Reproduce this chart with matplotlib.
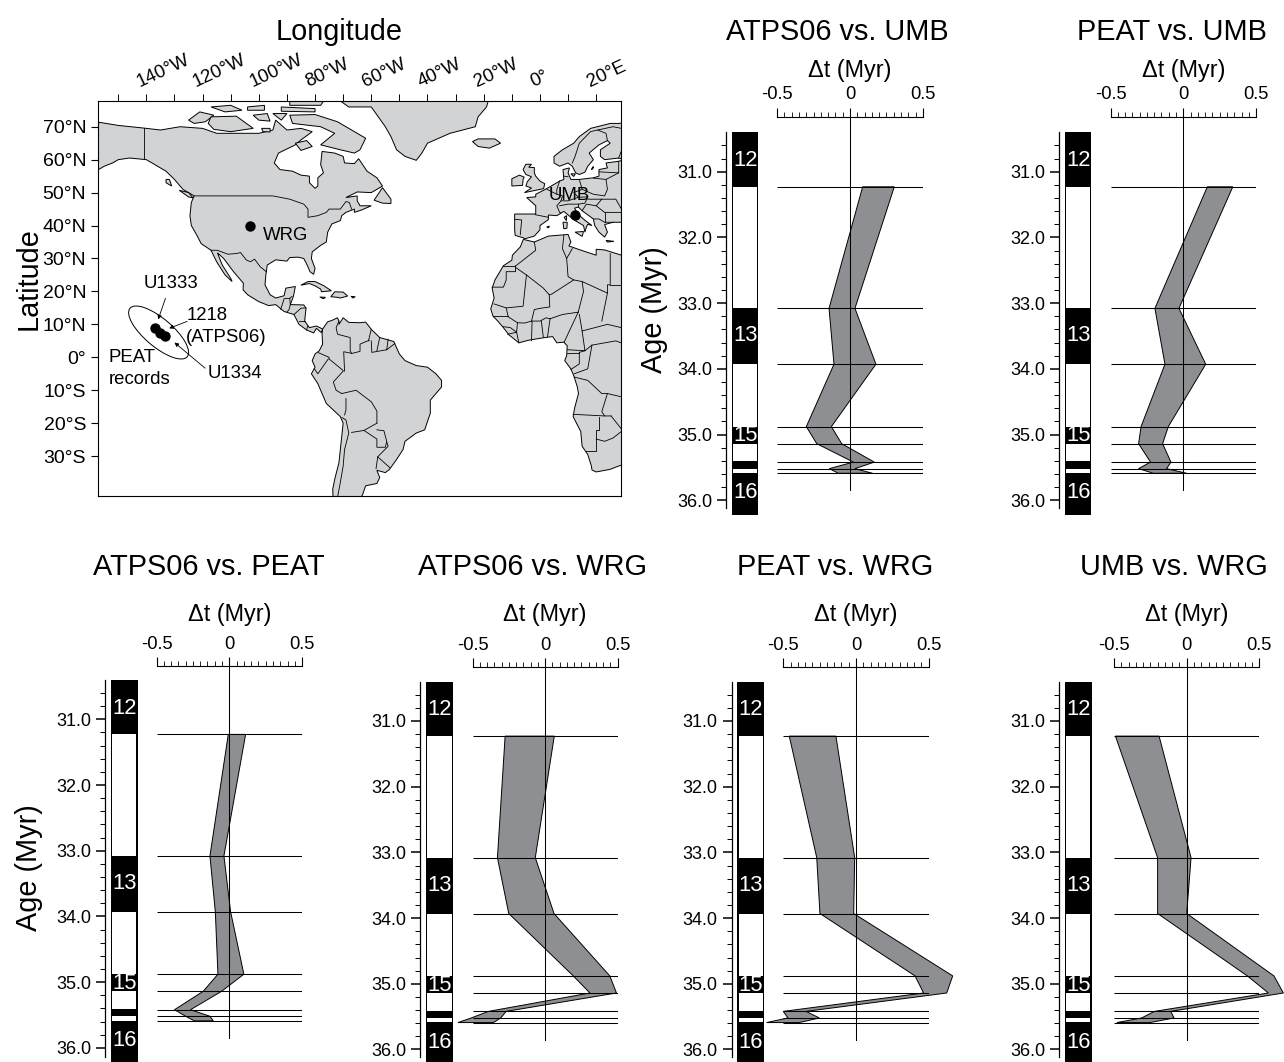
#!/usr/bin/env python3
import matplotlib
matplotlib.use('Agg')
import matplotlib.pyplot as plt
import numpy as np
from matplotlib.patches import Ellipse
from matplotlib.transforms import IdentityTransform

plt.rcParams['font.family'] = ['Liberation Sans', 'DejaVu Sans']

W, H = 1284, 1062

# ---- data: delta-t panels ----
chron_ages = [31.23, 33.08, 33.93, 34.88, 35.14, 35.42, 35.52, 35.59]
white_tops = [31.23, 33.93, 35.14, 35.52]
white_bots = [33.08, 34.88, 35.41, 35.585]
chron_names = ['12', '13', '15', '16']
chron_text_ages = [30.83, 33.5, 35.02, 35.89]
age_major = [31, 32, 33, 34, 35, 36]
age_minor = [30.6, 30.8, 31.2, 31.4, 31.6, 31.8, 32.2, 32.4, 32.6, 32.8, 33.2, 33.4,
             33.6, 33.8, 34.2, 34.4, 34.6, 34.8, 35.2, 35.4, 35.6, 35.8]

atps_umb_l = [0.087, -0.144, -0.11, -0.30, -0.228, 0.023, -0.142, -0.08]
atps_umb_r = [0.304, 0.034, 0.178, -0.128, -0.057, 0.167, 0.034, 0.155]
peat_umb_l = [0.165, -0.195, -0.126, -0.29, -0.307, -0.225, -0.307, -0.206]
peat_umb_r = [0.34, -0.03, 0.154, -0.103, -0.142, -0.085, -0.115, 0.023]
atps_peat_l = [-0.007, -0.133, -0.096, -0.078, -0.179, -0.376, -0.30, -0.24]
atps_peat_r = [0.112, -0.037, 0.009, 0.10, -0.053, -0.266, -0.133, -0.11]
atps_wrg_l = [-0.275, -0.328, -0.25, 0.195, 0.31, -0.39, -0.509, -0.60]
atps_wrg_r = [0.064, -0.067, 0.062, 0.447, 0.493, -0.268, -0.305, -0.356]
peat_wrg_l = [-0.459, -0.27, -0.248, 0.406, 0.465, -0.50, -0.468, -0.615]
peat_wrg_r = [-0.138, -0.009, -0.016, 0.665, 0.624, -0.344, -0.252, -0.39]
umb_wrg_l = [-0.49, -0.2, -0.2, 0.417, 0.562, -0.222, -0.31, -0.48]
umb_wrg_r = [-0.19, 0.03, 0.0, 0.60, 0.665, -0.11, -0.087, -0.252]

# ---- data: map outlines (lon, lat) ----
north_america = [(-160, 71), (-156.5, 71.3), (-150, 70.4), (-141, 69.6), (-135, 69), (-128, 70), (-120, 69.5),
    (-115, 68), (-108, 68), (-100, 68), (-95, 69), (-94, 72), (-90, 69), (-85, 69.5), (-81, 68.5), (-85, 66),
    (-87, 64.5), (-93, 62), (-94.5, 59), (-92.5, 57), (-88, 56.5), (-85, 55.3), (-82, 55), (-82, 53), (-80, 51.3),
    (-79, 52), (-79, 54.5), (-77, 56), (-78, 58.5), (-77.5, 62.5), (-73, 62), (-70, 61), (-69.5, 59), (-66, 58.8),
    (-64.5, 60.3), (-61.5, 56.5), (-58, 54.5), (-56, 52), (-60, 50), (-65, 50.2), (-69, 48.5), (-65, 49),
    (-65, 47.5), (-64, 46), (-61, 46), (-60, 46), (-63.5, 44.7), (-66, 44), (-66, 45), (-69, 44), (-70.5, 43),
    (-71, 41.5), (-74, 40.5), (-75.5, 38), (-76, 35), (-78, 34), (-81, 32), (-81.3, 30), (-80, 27), (-80.5, 25.2),
    (-81.8, 26), (-82.8, 28), (-84, 30), (-86, 30.4), (-89, 30.3), (-90, 29.2), (-94, 29.6), (-97, 28), (-97.5, 25),
    (-97.8, 22), (-96, 19), (-94, 18), (-91, 18.7), (-90.4, 21), (-87, 21.5), (-87.7, 18.5), (-88.8, 16), (-84, 15.9),
    (-83.2, 14.9), (-83.7, 11), (-82, 9), (-79.5, 9.5), (-77.3, 8.6), (-77.8, 7.5), (-79.5, 8.8), (-80.5, 7.4),
    (-83, 8.3), (-85.7, 10), (-87.5, 13), (-91, 13.9), (-94, 16), (-96.5, 15.7), (-100, 16.9), (-104, 19),
    (-105.6, 20.5), (-105.5, 22.5), (-109, 26), (-112.5, 30), (-114.7, 31.7), (-113, 28), (-110, 24), (-109.5, 23),
    (-112, 25), (-115, 29), (-117, 32.5), (-120.5, 34.5), (-122, 37), (-124, 40), (-124.5, 43), (-124, 47), (-123, 49),
    (-127, 51), (-130, 54), (-133, 56.5), (-137, 58.5), (-140, 60), (-146, 60.5), (-150, 60), (-152, 59), (-155, 58),
    (-160, 55.5)]
greenland = [(-73, 79), (-68, 76), (-60, 76), (-55, 70), (-53, 67), (-51, 63), (-48, 61), (-44, 59.8), (-42, 62),
    (-40, 65), (-32, 68), (-23, 70), (-22, 73), (-19, 76), (-18, 79)]
iceland = [(-24, 65.5), (-22, 64), (-18, 63.5), (-14, 65), (-16, 66.3), (-22, 66.3)]
banks = [(-125, 72), (-121, 74.5), (-116, 73.5), (-119, 71.5), (-123, 71)]
victoria = [(-117, 73), (-108, 73.2), (-102, 69.5), (-110, 68.5), (-116, 69.2), (-118, 71)]
melville = [(-117, 76), (-110, 76.5), (-106, 75), (-112, 74.5)]
bathurst = [(-104, 76), (-98, 76.5), (-98, 75), (-104, 75)]
prince_wales = [(-102, 73.5), (-97, 74), (-96, 71.7), (-100, 72)]
king_william = [(-99, 69.5), (-96, 69.5), (-96, 68.4), (-98.5, 68.5)]
somerset = [(-95, 74), (-90, 74), (-92, 72)]
devon = [(-92, 76), (-80, 75.5), (-80, 74.5), (-92, 74.7)]
ellesmere = [(-89, 79), (-89, 76.5), (-78, 76.5), (-76, 79)]
baffin = [(-80, 73.7), (-72, 71.5), (-67, 69), (-62, 66.5), (-64, 63), (-66, 62), (-71, 63), (-78, 64.5),
    (-73, 68), (-78, 70), (-88, 71), (-89, 73.5)]
southampton = [(-87, 65), (-83, 65.8), (-81, 64), (-85, 62.8)]
newfoundland = [(-59, 47.7), (-56, 51.5), (-53, 48), (-53, 46.7), (-56, 46.8)]
vancouver = [(-128.3, 50.7), (-125, 50), (-123.4, 48.4), (-125, 48.7)]
charlotte = [(-133, 54), (-131.8, 54), (-131, 52), (-133, 53)]
cuba = [(-85, 21.9), (-82.5, 23), (-80, 23), (-77, 21.8), (-74.2, 20.2), (-77.7, 19.9), (-78, 20.7), (-80, 21.7), (-82, 22.4)]
hispaniola = [(-74.4, 18.4), (-73, 19.9), (-70, 19.8), (-68.4, 18.6), (-71, 18), (-72, 18.2)]
jamaica = [(-78.3, 18.3), (-76.3, 18.2), (-77, 17.8)]
puerto_rico = [(-67.2, 18.5), (-65.7, 18.4), (-66.5, 18)]
south_america = [(-77.3, 8.6), (-75.5, 10.8), (-74, 11.2), (-72, 12), (-71.5, 11), (-71.5, 10), (-70, 12), (-68, 10.6),
    (-64, 10.5), (-62, 10.7), (-60, 8.5), (-57, 6), (-52, 4.8), (-50, 1), (-48, -1), (-44, -2.5), (-40, -3), (-37, -5),
    (-35, -7), (-35, -9), (-39, -13), (-39, -17), (-41, -22), (-44, -23), (-48, -25.5), (-48.7, -28), (-51, -31),
    (-53.5, -34), (-55, -35), (-58, -34.3), (-57, -36.5), (-58, -38.3), (-62, -39), (-63, -41.5), (-65, -45), (-73.5, -45),
    (-73.7, -40), (-73, -37), (-71.5, -32), (-71, -28), (-70, -20), (-71, -18), (-76, -14), (-79, -8), (-81.3, -5),
    (-80, -3), (-81, -1), (-80, 1), (-78.5, 2), (-77.3, 4), (-77.5, 7)]
europe = [(40, 72), (28, 71), (25, 71), (18, 69.5), (14, 67), (12, 65), (8, 63), (5, 61), (5, 59), (7, 58), (10, 59),
    (11.5, 58), (12.7, 56), (14, 55.5), (16, 56.2), (17, 58), (19, 60), (17.5, 62), (21, 64.5), (24, 65.8), (25, 65),
    (21.5, 63), (21.5, 61), (23, 60), (28, 60.5), (30, 60), (28, 59.5), (23.5, 59), (24, 57.5), (21, 57), (21, 55),
    (19, 54.5), (14, 54), (11, 54), (10, 56), (10.5, 57.5), (8.2, 57), (8.5, 54), (7, 53.5), (4, 52), (1.5, 50.8),
    (-1.5, 49.5), (-1.5, 48.7), (-4.7, 48.5), (-1.5, 46), (-1.5, 43.5), (-9, 43.5), (-9, 38.7), (-8.8, 37), (-6, 36.3),
    (-5.3, 36), (-2, 36.8), (0, 38.7), (0, 40), (3, 41.8), (3, 43.2), (6, 43), (8.5, 44.3), (10.3, 43), (12.5, 41.5),
    (15.5, 40), (16, 38), (16.5, 39.5), (17, 40.4), (18.5, 40), (16, 41.6), (13.5, 43.5), (12.3, 45.3), (13.7, 45.6),
    (15, 44.5), (19, 42), (19.5, 40), (21, 38), (23, 36.5), (24, 38), (23, 40.3), (26, 41), (29, 41), (40, 41)]
great_britain = [(-5.5, 50), (1.3, 51.2), (1.7, 52.7), (0, 53.5), (-1.5, 55), (-2, 56), (-2, 57.6), (-4, 57.7), (-3, 58.6),
    (-5, 58.6), (-6, 57), (-5, 55.5), (-3, 54.8), (-4.5, 53.3), (-5, 52), (-3, 51.4)]
ireland = [(-10, 52), (-6.2, 52.2), (-6, 54), (-5.6, 54.7), (-7.3, 55.3), (-10, 54.2)]
sicily = [(12.5, 38), (15.5, 38.2), (15, 36.7)]
sardinia = [(8.2, 41), (9.7, 41), (9.6, 39.2), (8.5, 39)]
corsica = [(8.6, 42.5), (9.5, 43), (9.4, 41.5)]
crete = [(23.5, 35.5), (26.3, 35.2), (24, 35)]
mallorca = [(2.4, 39.6), (3.4, 39.8), (3, 39.3)]
gotland = [(18.2, 57), (19, 57.9), (18.8, 57.2)]
zealand = [(11, 55.7), (12.6, 55.7), (12, 54.9)]
africa = [(-5.9, 35.8), (-2, 35), (3, 36.8), (10, 37.3), (11, 35), (10.3, 33.8), (15, 32.4), (20, 31), (20, 32.8), (23, 32.6),
    (29, 31), (40, 30), (40, -30), (28, -33), (25, -34), (20, -34.8), (18.5, -34.2), (18.3, -33), (17, -29.5), (15, -27),
    (14.5, -22.5), (11.8, -18), (12.3, -15.5), (13.7, -11), (13.3, -9), (12, -5.5), (11, -3.5), (8.8, -1), (9.5, 0.5),
    (9.7, 3.5), (8.5, 4.6), (6, 4.4), (4.5, 6.3), (1, 5.9), (-4, 5.2), (-7.5, 4.4), (-11, 6.8), (-13, 9), (-15, 11),
    (-16.7, 12.5), (-17.5, 14.7), (-16.3, 18), (-17, 21), (-16, 23.5), (-13, 27.8), (-10, 29.5), (-9.8, 31), (-7, 33.5)]

land_polygons = [north_america, greenland, iceland, banks, victoria, melville, bathurst, prince_wales, king_william,
    somerset, devon, ellesmere, baffin, southampton, newfoundland, vancouver, charlotte, cuba, hispaniola, jamaica,
    puerto_rico, south_america, europe, great_britain, ireland, sicily, sardinia, corsica, crete, mallorca, gotland,
    zealand, africa]

america_borders = [
    [(-123, 49), (-95, 49), (-89, 48), (-84, 46.5), (-82.5, 45), (-82.5, 42.5), (-79, 43), (-76, 44), (-75, 45), (-71, 45),
     (-69, 47.3), (-67.8, 47), (-67, 45)],
    [(-141, 69.6), (-141, 60.3)],
    [(-117, 32.5), (-114.8, 32.5), (-111, 31.3), (-108, 31.5), (-106.5, 31.8), (-104.5, 29.6), (-103, 29), (-101.5, 29.8),
     (-99.5, 27.5), (-97.2, 25.9)],
    [(-92.2, 14.6), (-91, 17.8), (-89, 17.9), (-88.2, 18.5)],
    [(-89, 17.9), (-88.8, 16)], [(-88.8, 15.9), (-89.3, 14.4), (-90, 13.8)], [(-87.5, 13), (-85, 14.9), (-83.2, 15)],
    [(-85.7, 11), (-83.7, 11)], [(-83, 8.3), (-82.6, 9.5)],
    [(-71.5, 11), (-72.5, 9), (-72, 7), (-67.5, 6), (-67.5, 2), (-67, 1.2)],
    [(-60, 8.5), (-61, 5)], [(-60.7, 5.2), (-64, 4), (-64, 1.8), (-66.8, 1.2)],
    [(-57, 6), (-58, 2)], [(-54, 5.5), (-54.5, 2.3)],
    [(-60, 5), (-59.8, 1.5), (-56.5, 2), (-54.5, 2.3), (-51.6, 4.2)],
    [(-67, 1.2), (-69.8, 1.7), (-69.5, -4.2)],
    [(-78.8, 1.4), (-75, 0), (-75, -0.5), (-70, -4)],
    [(-80.3, -3.4), (-79, -5), (-75.3, -0.5)],
    [(-70, -4.2), (-73.5, -7.5), (-72.5, -10), (-70.5, -11)],
    [(-70.5, -11), (-65.4, -10), (-60, -13.5), (-58, -16.3), (-58, -20)],
    [(-69, -12.5), (-69, -16), (-69.5, -17.5)],
    [(-70.4, -18.3), (-69, -19), (-68, -23), (-69.5, -28), (-70, -33), (-71, -38), (-72, -42.5)],
    [(-67, -22.8), (-62.6, -22.2), (-58, -20)],
    [(-62.6, -22.2), (-58, -24.8), (-58, -27.3), (-55, -27.3), (-54.5, -25.5), (-55.5, -22.3), (-58, -22)],
    [(-54.5, -25.7), (-54, -27), (-57.7, -30.2), (-58.3, -33.8)],
    [(-57.7, -30.2), (-53.4, -33.5)]]
africa_borders = [
    [(-2, 35), (-1.5, 32.5), (-8.7, 27.7)], [(-8.7, 27.7), (-13, 27.7)],
    [(-8.7, 27.7), (-8.7, 26), (-12, 26), (-12, 23.5), (-13, 21.3), (-17, 21.3)],
    [(-8.7, 27.3), (-4.8, 25), (-6, 15.5), (-12, 15), (-16.3, 16.2)],
    [(-4.8, 25), (1.2, 21), (3.3, 19), (4.2, 19.2), (12, 23.5), (15, 23), (24, 19.5)],
    [(8.5, 37), (8, 33), (9.5, 30), (10, 24.5), (12, 23.5)], [(11.5, 33), (9.5, 30)],
    [(25, 31.5), (25, 22), (24, 22), (24, 19.5), (22, 11)], [(25, 22), (37, 22)],
    [(3.3, 19), (3.5, 15.3), (0.3, 14.9), (-2, 14.5), (-3, 11), (-5.5, 10.4), (-8, 10.5), (-11.3, 12.3), (-12, 15)],
    [(3.6, 11.7), (8, 13), (13.6, 13.7)], [(15, 23), (15.5, 20), (13.6, 13.7)],
    [(-3, 11), (0, 11), (2.2, 12), (3.6, 11.7)], [(2.7, 6.3), (3.6, 11.7)],
    [(1.2, 6.1), (0.5, 11)], [(-3, 5), (-2.8, 11)], [(-11.5, 7), (-8.3, 7.6), (-7.5, 4.4)],
    [(-13, 9.3), (-10.5, 9), (-8.3, 7.6), (-8, 10.5)], [(-16.8, 12.4), (-11.3, 12.4)],
    [(8.6, 4.6), (13.6, 13.7)], [(9.8, 2.3), (16, 2), (15, 8), (14, 13)], [(15, 8), (24, 10), (29, 9)],
    [(16, 2), (18.5, 3.7), (27, 5), (30, 4)], [(11, -3.7), (14, -2), (14, 1.5), (16, 2)],
    [(12.2, -5), (17, -3.5), (18.5, 3.7)], [(9.8, 1.1), (14, 1.2)],
    [(12.2, -6), (17, -7), (22, -11), (24, -11), (29, -12), (29, -9), (30, -4), (30, 4)],
    [(11.8, -17.3), (23, -17.8), (25.3, -17.8)], [(24, -11), (22, -16.5), (23, -17.8)],
    [(16.5, -28.5), (20, -28.5), (20, -22), (21, -22), (21, -18.2)],
    [(20, -24.8), (23, -25.5), (26, -24.5), (29.4, -22.2)], [(25.3, -17.8), (29.4, -22.2)]]
europe_borders = [
    [(-1.7, 43.3), (3, 42.5)], [(-8.8, 41.9), (-6.5, 41.7), (-7, 37.2)],
    [(2.5, 51), (6, 49.5), (8, 49), (7.5, 47.5), (6, 46), (7, 44), (7.5, 43.8)],
    [(7, 53.5), (6, 51), (6, 49.5)], [(14, 54), (15, 51), (12, 50), (13.7, 48.6), (10, 47.5), (7.5, 47.5)],
    [(7, 46), (10, 46.5), (13.7, 46.5), (13.7, 45.6)], [(8.5, 55), (10, 54.8)],
    [(11.5, 59), (12.5, 61), (14, 65), (18, 68.5), (20.5, 69)], [(24, 65.8), (23.5, 68), (20.5, 69), (26, 70), (29, 69.5)],
    [(29, 69.5), (30, 65), (28, 60.5)], [(15, 51), (19, 49.5), (23, 49), (24, 51), (23.5, 54), (19, 54.4)],
    [(13.7, 48.6), (17, 48.7), (16, 46.8), (13.7, 46.5)], [(17, 48), (22, 48), (20, 46), (16.5, 46.5), (15, 44.5)],
    [(22, 48), (27, 48), (29, 45)], [(20, 46), (23, 44), (29, 44)], [(19, 42), (21, 42), (23, 41), (26, 41)],
    [(23, 44), (23, 41)], [(23.5, 54), (28, 56), (28, 59.5)], [(21, 56.3), (28, 56)]]

# ---- data: map marks and labels ----
lon_ticks = [-150, -140, -130, -120, -110, -100, -90, -80, -70, -60, -50, -40, -30, -20, -10, 0, 10, 20]
lon_label_ticks = [-140, -120, -100, -80, -60, -40, -20, 0, 20]
lon_labels = ['140°W', '120°W', '100°W', '80°W', '60°W', '40°W', '20°W', '0°', '20°E']
lat_ticks = [70, 60, 50, 40, 30, 20, 10, 0, -10, -20, -30]
lat_labels = ['70°N', '60°N', '50°N', '40°N', '30°N', '20°N', '10°N', '0°', '10°S', '20°S', '30°S']
site_lons = [-103.2, 12.4, -136.8, -135.0, -133.2]
site_lats = [40.0, 43.3, 8.8, 7.4, 6.5]


def px_axes(x0, y0, x1, y1):
    return fig.add_axes([x0 / W, 1 - y1 / H, (x1 - x0) / W, (y1 - y0) / H])


def px_text(x, y, s, **kw):
    kw.setdefault('ha', 'center')
    kw.setdefault('va', 'center')
    fig.text(x / W, 1 - y / H, s, **kw)


def draw_panel(title, left, right, zero_x, half_w, spine_x, col_x, axis_y, y31, title_y, dt_y, zero_end, col_top,
               spine_end, col_end, label_pad):
    scale = 65.7
    age = lambda y: 31 + (y - y31) / scale

    # delta-t band
    ax = px_axes(zero_x - half_w, axis_y, zero_x + half_w, zero_end)
    ax.patch.set_alpha(0)
    ax.set_xlim(-0.5, 0.5)
    ax.set_ylim(age(zero_end), age(axis_y))
    ax.fill(list(left) + list(right)[::-1], chron_ages + chron_ages[::-1], fc='#8e8f92', ec='k', lw=0.7,
            clip_on=False, zorder=1)
    ax.hlines(chron_ages, -0.5, 0.5, color='k', lw=0.75, zorder=2)
    ax.axvline(0, color='k', lw=0.75, zorder=2)
    for s in ['left', 'right', 'bottom']:
        ax.spines[s].set_visible(False)
    ax.spines['top'].set_linewidth(0.8)
    ax.set_yticks([])
    ax.xaxis.tick_top()
    ax.set_xticks([-0.5, 0, 0.5])
    ax.set_xticklabels(['-0.5', '0', '0.5'], fontsize=13.2)
    ax.set_xticks(np.arange(-10, 11) * 0.05, minor=True)
    ax.tick_params(axis='x', which='major', length=6.8, width=0.8, pad=label_pad)
    ax.tick_params(axis='x', which='minor', length=3.8, width=0.6)

    # chron column: black bar with white reversed intervals cut into it
    col_w = 26.5
    ay = px_axes(spine_x, col_top, col_x + col_w, col_end)
    ay.patch.set_alpha(0)
    ay.set_xlim(spine_x, col_x + col_w)
    ay.set_ylim(age(col_end), age(col_top))
    ay.fill_between([col_x, col_x + col_w], age(col_top), age(col_end), color='k', lw=0)
    for top, bot in zip(white_tops, white_bots):
        ay.fill_between([col_x + 1.2, col_x + col_w - 1.2], top, bot, color='w', lw=0)
    for name, a in zip(chron_names, chron_text_ages):
        ay.text(col_x + col_w / 2 + 0.5, a, name, color='w', fontsize=15.8, ha='center', va='center')
    for s in ['right', 'top', 'bottom']:
        ay.spines[s].set_visible(False)
    ay.spines['left'].set_bounds(age(col_top), age(spine_end))
    ay.spines['left'].set_linewidth(0.9)
    ay.set_xticks([])
    ay.set_yticks(age_major)
    ay.set_yticklabels(['%.1f' % a for a in age_major], fontsize=13)
    ay.set_yticks(age_minor, minor=True)
    ay.tick_params(axis='y', which='major', length=6.5, width=1.1, pad=3.5)
    ay.tick_params(axis='y', which='minor', length=3.6, width=0.7)

    px_text(title[1], title_y, title[0], fontsize=20.8)
    px_text(zero_x, dt_y, 'Δt (Myr)', fontsize=16.8)


fig = plt.figure(figsize=(W / 100, H / 100), dpi=100)

# ---- map ----
ax = px_axes(98, 100.7, 621.2, 496)
ax.set_xlim(-157.2, 28.9)
ax.set_ylim(-42.1, 77.9)
for poly in land_polygons:
    pts = np.array(poly)
    ax.fill(pts[:, 0], pts[:, 1], fc='#d1d3d4', ec='k', lw=0.7)
for line in america_borders + africa_borders + europe_borders:
    pts = np.array(line)
    ax.plot(pts[:, 0], pts[:, 1], color='k', lw=0.6)
ax.scatter(site_lons, site_lats, s=42, color='k', zorder=5)
for s in ax.spines.values():
    s.set_linewidth(0.8)
ax.xaxis.tick_top()
ax.set_xticks(lon_ticks)
ax.set_xticklabels([])
ax.set_yticks(lat_ticks)
ax.set_yticklabels(lat_labels, fontsize=14)
ax.tick_params(axis='x', length=5, width=0.7)
ax.tick_params(axis='y', length=5, width=0.8, pad=3.5)
for lon, lab in zip(lon_label_ticks, lon_labels):
    ax.annotate(lab, xy=(lon, 1), xycoords=('data', 'axes fraction'), xytext=(-3.5, 7.5), textcoords='offset points',
                rotation=25, rotation_mode='anchor', ha='left', va='bottom', fontsize=13.5)

# site labels and pointers
ax.add_patch(Ellipse((158.6, H - 332.5), 75, 28, angle=-40.3, fc='none', ec='k', lw=0.7,
                     transform=IdentityTransform(), clip_on=False))
for start, end in [((-133.2, 17.9), (-135.8, 11.5)), ((-125.5, 10.9), (-131.9, 8.8)), ((-119.1, -3.3), (-130.0, 4.5))]:
    ax.annotate('', xy=end, xytext=start, arrowprops=dict(arrowstyle='-|>', color='k', lw=0.6, mutation_scale=6,
                                                         shrinkA=0, shrinkB=0))
for x, y, s in [(263, 236, 'WRG'), (549, 196, 'UMB'), (144, 284, 'U1333'), (187, 316, '1218'), (186, 338, '(ATPS06)'),
                (109, 357, 'PEAT'), (109, 379, 'records'), (208, 374, 'U1334')]:
    px_text(x, y, s, ha='left', fontsize=13.4)

px_text(339, 32, 'Longitude', fontsize=20.8)
px_text(29, 279, 'Latitude', fontsize=20.8, rotation=90)
px_text(654, 310, 'Age (Myr)', fontsize=20.8, rotation=90)
px_text(29, 868, 'Age (Myr)', fontsize=20.8, rotation=90)

# ---- panels ----
top = dict(axis_y=117.3, y31=171.7, title_y=32, dt_y=70, zero_end=490.7, col_top=132, spine_end=508, col_end=514.7,
           label_pad=3.3)
bot = dict(axis_y=667, y31=721, title_y=567, dt_y=615, zero_end=1040.5, col_top=681.7, spine_end=1057, col_end=1063,
           label_pad=2.4)
bot3 = dict(axis_y=665.7, y31=719.3, title_y=567, dt_y=615, zero_end=1039, col_top=680.3, spine_end=1057, col_end=1063,
            label_pad=2.4)

draw_panel(('ATPS06 vs. UMB', 837), atps_umb_l, atps_umb_r, 850, 72.8, 726, 731.7, **top)
draw_panel(('PEAT vs. UMB', 1172), peat_umb_l, peat_umb_r, 1183.3, 72.8, 1059, 1065, **top)
draw_panel(('ATPS06 vs. PEAT', 209), atps_peat_l, atps_peat_r, 229.3, 72.8, 105.3, 111, **bot3)
draw_panel(('ATPS06 vs. WRG', 533), atps_wrg_l, atps_wrg_r, 545, 72.5, 420.3, 426.3, **bot)
draw_panel(('PEAT vs. WRG', 835), peat_wrg_l, peat_wrg_r, 856, 72.7, 731.7, 737.3, **bot)
draw_panel(('UMB vs. WRG', 1174), umb_wrg_l, umb_wrg_r, 1186.7, 72.7, 1059.3, 1065, **bot)

fig.savefig('out.png', dpi=100)
